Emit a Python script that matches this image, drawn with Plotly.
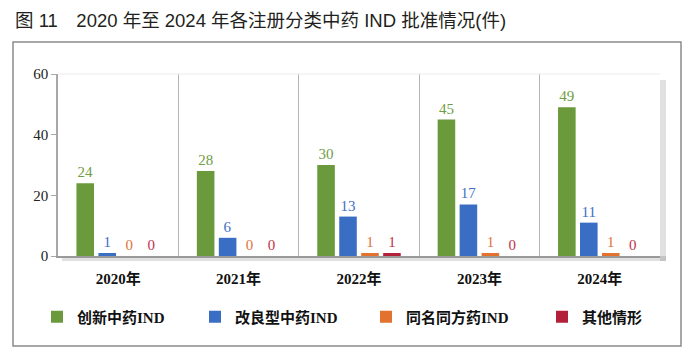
import plotly.graph_objects as go

years = ["2020年", "2021年", "2022年", "2023年", "2024年"]
series_names = ["创新中药IND", "改良型中药IND", "同名同方药IND", "其他情形"]
innovative = [24, 28, 30, 45, 49]
improved = [1, 6, 13, 17, 11]
same_name = [0, 0, 1, 1, 1]
other = [0, 0, 1, 0, 0]
y_ticks = [0, 20, 40, 60]

bar_colors = ["#6b9a3c", "#3a6ec4", "#e2722e", "#b2203a"]
label_colors = ["#6f9c44", "#3f6fc4", "#e2723a", "#c0304a"]
values = [innovative, improved, same_name, other]
legend_ids = ["legend", "legend2", "legend3", "legend4"]
legend_text_x = [77, 235, 406, 582]

serif = "Liberation Serif, Times New Roman, Noto Sans CJK SC, serif"

fig = go.Figure()
for name, vals, bc, lc, lg in zip(series_names, values, bar_colors, label_colors, legend_ids):
    fig.add_trace(go.Bar(
        x=years, y=vals, name=name, legend=lg,
        marker=dict(color=bc, line=dict(width=0)),
        text=vals, textposition="outside", cliponaxis=False,
        textfont=dict(family=serif, size=15, color=lc),
    ))

W, H = 700, 353
L, R, T, B = 58, 40, 74, 97
pw, ph = W - L - R, H - T - B

def px_x(x):
    return (x - L) / pw

def px_y(y):
    return (H - B - y) / ph

shapes = [
    # outer frame
    dict(type="rect", xref="paper", yref="paper",
         x0=px_x(13), x1=px_x(681), y0=px_y(346), y1=px_y(42),
         line=dict(color="#8c8c8c", width=1.5), fillcolor="rgba(0,0,0,0)", layer="below"),
    # plot shadow right
    dict(type="rect", xref="paper", yref="paper",
         x0=1.0, x1=px_x(666), y0=px_y(261), y1=px_y(80),
         line=dict(width=0), fillcolor="rgba(0,0,0,0.12)", layer="below"),
    # plot shadow bottom
    dict(type="rect", xref="paper", yref="paper",
         x0=px_x(62), x1=px_x(666), y0=px_y(261), y1=0,
         line=dict(width=0), fillcolor="rgba(0,0,0,0.12)", layer="below"),
    # faint top border
    dict(type="line", xref="paper", yref="paper", x0=0, x1=1, y0=1, y1=1,
         line=dict(color="#ececec", width=1)),
]

legend_layouts = {}
for lg, tx in zip(legend_ids, legend_text_x):
    legend_layouts[lg] = dict(
        orientation="h", xref="container", yref="container",
        x=(tx - 40) / W, xanchor="left", y=1 - 317 / H, yanchor="middle",
        itemwidth=30,
        font=dict(family=serif, size=15, color="#111", weight="bold"),
        bgcolor="rgba(0,0,0,0)",
    )

fig.update_layout(
    width=W, height=H,
    margin=dict(l=L, r=R, t=T, b=B, autoexpand=False),
    paper_bgcolor="white", plot_bgcolor="white",
    barmode="group", bargap=0.27, bargroupgap=0.2,
    title=dict(text="图 11　2020 年至 2024 年各注册分类中药 IND 批准情况(件)",
               x=15 / W, xref="container", xanchor="left",
               y=1 - 21 / H, yref="container", yanchor="middle",
               font=dict(family="Liberation Sans, Noto Sans CJK SC, sans-serif",
                         size=18.5, color="#231f20")),
    xaxis=dict(tickson="boundaries", showgrid=True, gridcolor="#b4b4b4", gridwidth=1,
               showline=True, linecolor="#9a9a9a", linewidth=1.5, ticks="",
               tickfont=dict(family=serif, size=15, color="#111", weight="bold"),
               ticklabelstandoff=8),
    yaxis=dict(range=[0, 60], tickvals=y_ticks, showgrid=False, zeroline=False,
               showline=True, linecolor="#a8a8a8", linewidth=1.5,
               ticks="outside", ticklen=5, tickcolor="#a8a8a8",
               tickfont=dict(family=serif, size=15, color="#222")),
    shapes=shapes,
    showlegend=True,
    **legend_layouts,
)

fig.write_html("out.html")
